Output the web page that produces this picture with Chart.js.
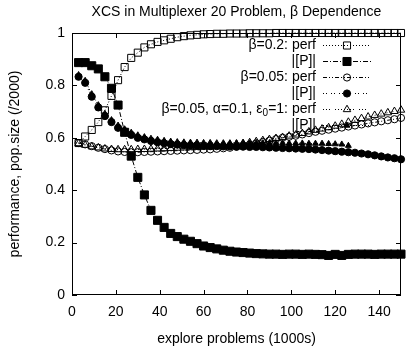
<!DOCTYPE html>
<html><head><meta charset="utf-8">
<script src="https://cdn.jsdelivr.net/npm/chart.js@4/dist/chart.umd.min.js"></script>
<style>html,body{margin:0;padding:0;background:#fff}#wrap{width:410px;height:358px}</style>
</head><body><div id="wrap"><canvas id="c" width="410" height="358"></canvas></div>
<script>
const chartTitle = 'XCS in Multiplexer 20 Problem, \u03b2 Dependence';
const xTitle = 'explore problems (1000s)';
const yTitle = 'performance, pop.size (/2000)';
const xTicks = [0, 20, 40, 60, 80, 100, 120, 140];
const yTicks = [0, 0.2, 0.4, 0.6, 0.8, 1];
const seriesLabels = ['\u03b2=0.2: perf', '|[P]|', '\u03b2=0.05: perf', '|[P]|', '\u03b2=0.05, \u03b1=0.1, \u03b5_0=1: perf', '|[P]|'];

const explore = [3,6,9,12,15,18,21,24,27,30,33,36,39,42,45,48,51,54,57,60,63,66,69,72,75,78,81,84,87,90,93,96,99,102,105,108,111,114,117,120,123,126,129,132,135,138,141,144,147,150];

const perfB02 = [0.58,0.605,0.63,0.66,0.705,0.76,0.82,0.87,0.905,0.925,0.945,0.957,0.966,0.972,0.978,0.984,0.988,0.991,0.993,0.995,0.996,0.997,0.997,0.998,0.998,0.998,0.999,0.999,0.999,0.999,1,1,1,1,1,1,1,1,1,1,1,1,1,1,1,1,1,1,1,1];
const popB02 = [0.887,0.887,0.875,0.863,0.833,0.789,0.725,0.621,0.53,0.449,0.382,0.323,0.285,0.258,0.235,0.223,0.213,0.205,0.196,0.187,0.181,0.176,0.171,0.167,0.164,0.162,0.16,0.158,0.157,0.156,0.156,0.155,0.156,0.156,0.155,0.156,0.155,0.154,0.151,0.155,0.151,0.155,0.156,0.156,0.156,0.155,0.156,0.156,0.156,0.156];
const perfB005 = [0.58,0.575,0.568,0.562,0.557,0.552,0.548,0.546,0.545,0.545,0.546,0.547,0.548,0.549,0.55,0.551,0.552,0.553,0.554,0.555,0.556,0.558,0.56,0.562,0.566,0.57,0.574,0.579,0.584,0.589,0.595,0.6,0.604,0.608,0.613,0.618,0.623,0.627,0.631,0.635,0.639,0.643,0.647,0.651,0.655,0.659,0.663,0.667,0.671,0.676];
const popB005 = [0.833,0.81,0.757,0.716,0.683,0.66,0.638,0.625,0.611,0.6,0.594,0.588,0.583,0.579,0.576,0.574,0.572,0.571,0.57,0.569,0.568,0.568,0.567,0.567,0.566,0.566,0.565,0.565,0.564,0.563,0.562,0.561,0.56,0.559,0.558,0.557,0.555,0.553,0.551,0.549,0.547,0.545,0.543,0.54,0.537,0.533,0.529,0.525,0.522,0.518];
const perfAlpha = [0.578,0.572,0.566,0.562,0.558,0.556,0.555,0.555,0.555,0.556,0.556,0.557,0.558,0.559,0.56,0.561,0.562,0.563,0.564,0.565,0.566,0.568,0.57,0.573,0.576,0.579,0.582,0.586,0.59,0.594,0.598,0.602,0.607,0.611,0.617,0.623,0.629,0.634,0.639,0.645,0.652,0.66,0.667,0.674,0.68,0.686,0.691,0.696,0.701,0.706];
const popAlpha = [0.84,0.818,0.767,0.725,0.692,0.668,0.647,0.633,0.62,0.61,0.603,0.597,0.593,0.589,0.586,0.584,0.583,0.582,0.582,0.581,0.581,0.58,0.58,0.58,0.58,0.58,0.58,0.58,0.58,0.58,0.58,0.58,0.579,0.579,0.579,0.578,0.578,0.578,0.577,0.576,0.575,0.57];

const FONT = '"Liberation Sans", Arial, Helvetica, sans-serif';
function pts(arr) { return arr.map((v, i) => ({x: explore[i], y: v})); }

const styles = [
  {dash: [1, 2], marker: 'rect', r: 5, fill: false},
  {dash: [5, 2, 1, 2], marker: 'rect', r: 5.7, fill: true},
  {dash: [4, 2, 1, 2, 1, 2], marker: 'circle', r: 3.6, fill: false},
  {dash: [1, 2, 1, 4], marker: 'circle', r: 3.6, fill: true},
  {dash: [1, 2, 1, 2, 1, 5], marker: 'triangle', r: 4.3, fill: false},
  {dash: [1, 2], marker: 'triangle', r: 3.4, fill: true}
];
const seriesData = [perfB02, popB02, perfB005, popB005, perfAlpha, popAlpha];

const datasets = seriesData.map((arr, i) => ({
  label: seriesLabels[i].replace('_', ''),
  data: pts(arr),
  borderColor: '#000',
  borderWidth: 1,
  borderDash: styles[i].dash,
  pointStyle: styles[i].marker,
  pointRadius: styles[i].r,
  pointBorderWidth: 1,
  pointBorderColor: '#000',
  pointBackgroundColor: styles[i].fill ? '#000' : 'rgba(0,0,0,0)',
  tension: 0,
  clip: false,
  order: 6 - i
}));

function drawMarker(ctx, kind, r, fill, x, y) {
  ctx.save();
  ctx.setLineDash([]);
  ctx.lineWidth = 1;
  ctx.strokeStyle = '#000';
  ctx.fillStyle = '#000';
  ctx.beginPath();
  if (kind === 'rect') {
    const s = r * Math.SQRT2 / 2;
    ctx.rect(x - s, y - s, 2 * s, 2 * s);
  } else if (kind === 'circle') {
    ctx.arc(x, y, r, 0, Math.PI * 2);
  } else {
    for (let k = 0; k < 3; k++) {
      const a = k * 2 * Math.PI / 3;
      const px = x + Math.sin(a) * r, py = y - Math.cos(a) * r;
      if (k === 0) ctx.moveTo(px, py); else ctx.lineTo(px, py);
    }
    ctx.closePath();
  }
  if (fill) ctx.fill();
  ctx.stroke();
  ctx.restore();
}

function drawRich(ctx, label, xr, y) {
  const parts = [];
  const re = /_(.)/g;
  let last = 0, m;
  while ((m = re.exec(label)) !== null) {
    parts.push({t: label.slice(last, m.index), sub: false});
    parts.push({t: m[1], sub: true});
    last = m.index + 2;
  }
  parts.push({t: label.slice(last), sub: false});
  let total = 0;
  parts.forEach(p => { ctx.font = (p.sub ? '10px ' : '14px ') + FONT; p.w = ctx.measureText(p.t).width; total += p.w; });
  let x = xr - total;
  ctx.textAlign = 'left';
  parts.forEach(p => {
    ctx.font = (p.sub ? '10px ' : '14px ') + FONT;
    ctx.fillText(p.t, x, p.sub ? y + 4 : y);
    x += p.w;
  });
}

const framePlugin = {
  id: 'frame',
  beforeDatasetsDraw(chart) {
    const {ctx, chartArea: a, scales} = chart;
    ctx.save();
    ctx.strokeStyle = '#000';
    ctx.lineWidth = 1;
    ctx.setLineDash([]);
    ctx.strokeRect(Math.round(a.left) + 0.5, Math.round(a.top) + 0.5, Math.round(a.right - a.left) - 1, Math.round(a.bottom - a.top) - 1);
    ctx.beginPath();
    const tl = 5;
    xTicks.forEach(v => {
      const px = Math.round(scales.x.getPixelForValue(v)) + 0.5;
      ctx.moveTo(px, a.bottom); ctx.lineTo(px, a.bottom - tl);
      ctx.moveTo(px, a.top); ctx.lineTo(px, a.top + tl);
    });
    yTicks.forEach(v => {
      const py = Math.round(scales.y.getPixelForValue(v)) + 0.5;
      ctx.moveTo(a.left, py); ctx.lineTo(a.left + tl, py);
      ctx.moveTo(a.right, py); ctx.lineTo(a.right - tl, py);
    });
    ctx.stroke();
    // title centred over the plot area (gnuplot style)
    ctx.fillStyle = '#000';
    ctx.font = '14px ' + FONT;
    ctx.textAlign = 'center';
    ctx.textBaseline = 'middle';
    ctx.fillText(chartTitle, (a.left + a.right) / 2, 12.5);
    ctx.restore();
  },
  afterDatasetsDraw(chart) {
    const ctx = chart.ctx;
    const xr = 316, x0 = 323, x1 = 371, y0 = 45, dy = 16;
    ctx.save();
    ctx.fillStyle = '#000';
    ctx.textBaseline = 'middle';
    seriesLabels.forEach((lab, i) => {
      const y = y0 + i * dy;
      drawRich(ctx, lab, xr, y);
      ctx.strokeStyle = '#000';
      ctx.lineWidth = 1;
      ctx.setLineDash(styles[i].dash);
      ctx.beginPath();
      ctx.moveTo(x0, Math.round(y) + 0.5);
      ctx.lineTo(x1, Math.round(y) + 0.5);
      ctx.stroke();
      drawMarker(ctx, styles[i].marker, styles[i].r, styles[i].fill, (x0 + x1) / 2, Math.round(y) + 0.5);
    });
    ctx.restore();
  }
};

new Chart(document.getElementById('c'), {
  type: 'line',
  data: {datasets},
  options: {
    responsive: false,
    animation: false,
    devicePixelRatio: 1,
    events: [],
    layout: {padding: {left: 0, right: 4, top: 33, bottom: 0}},
    plugins: {
      legend: {display: false},
      tooltip: {enabled: false},
      title: {display: false}
    },
    scales: {
      x: {
        type: 'linear', min: 0, max: 150, bounds: 'data',
        grid: {display: false, drawTicks: false},
        border: {display: false},
        ticks: {stepSize: 20, includeBounds: false, color: '#000', padding: 9, maxRotation: 0,
          font: {family: FONT, size: 14}, callback: v => (xTicks.includes(v) ? String(v) : '')},
        title: {display: true, text: xTitle, color: '#000', font: {family: FONT, size: 14}, padding: {top: 0, bottom: 10.6}},
        afterFit: s => { s.height = 63; }
      },
      y: {
        type: 'linear', min: 0, max: 1,
        grid: {display: false, drawTicks: false},
        border: {display: false},
        ticks: {stepSize: 0.2, color: '#000', padding: 7, font: {family: FONT, size: 14},
          callback: v => { const r = Math.round(v * 10) / 10; return (r === 0 || r === 1) ? String(r) : r.toFixed(1); }},
        title: {display: true, text: yTitle, color: '#000', font: {family: FONT, size: 14}, padding: {top: 6.6, bottom: 0}},
        afterFit: s => { s.width = 72; }
      }
    }
  },
  plugins: [framePlugin]
});
</script>
</body></html>
